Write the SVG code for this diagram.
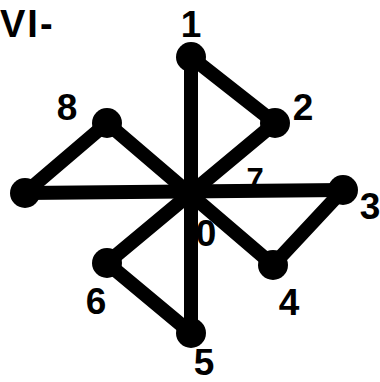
<svg xmlns="http://www.w3.org/2000/svg" width="380" height="382" viewBox="0 0 380 382">
<style>
.e{stroke:#000;stroke-width:14;stroke-linecap:round;fill:none}
.n{fill:#000}
.t{font-family:"Liberation Sans",Arial,sans-serif;font-weight:bold;font-size:37px;fill:#000;text-anchor:middle}
.s{font-family:"Liberation Sans",Arial,sans-serif;font-weight:bold;font-size:31px;fill:#000;text-anchor:middle}
</style>
<rect width="380" height="382" fill="#fff"/>
<text x="0" y="37" style="font-family:'Liberation Sans',Arial,sans-serif;font-weight:bold;font-size:38px;letter-spacing:2px">VI-</text>
<g id="label7"><text class="s" x="255" y="190">7</text></g>
<g id="node0"><text class="t" x="206" y="246">0</text></g>
<g id="connectors">
<line class="e" x1="191" y1="57" x2="191" y2="333"/>
<line class="e" x1="25" y1="193" x2="343" y2="190"/>
<line class="e" x1="191" y1="57" x2="275" y2="123"/>
<line class="e" x1="275" y1="123" x2="107" y2="263"/>
<line class="e" x1="343" y1="190" x2="273" y2="265"/>
<line class="e" x1="273" y1="265" x2="107" y2="123"/>
<line class="e" x1="191" y1="333" x2="107" y2="263"/>
<line class="e" x1="25" y1="193" x2="107" y2="123"/>
</g>
<g id="node1"><circle class="n" cx="191" cy="57" r="15"/><text class="t" x="191" y="37">1</text></g>
<g id="node2"><circle class="n" cx="275" cy="123" r="15"/><text class="t" x="303" y="120">2</text></g>
<g id="node3"><circle class="n" cx="343" cy="190" r="15"/><text class="t" x="370" y="219">3</text></g>
<g id="node4"><circle class="n" cx="273" cy="265" r="15"/><text class="t" x="289" y="315">4</text></g>
<g id="node5"><circle class="n" cx="191" cy="333" r="15"/><text class="t" x="204" y="375">5</text></g>
<g id="node6"><circle class="n" cx="107" cy="263" r="15"/><text class="t" x="96" y="314">6</text></g>
<g id="node8"><circle class="n" cx="107" cy="123" r="15"/><text class="t" x="67" y="120">8</text></g>
<g id="nodeL"><circle class="n" cx="25" cy="193" r="15"/></g>
</svg>
